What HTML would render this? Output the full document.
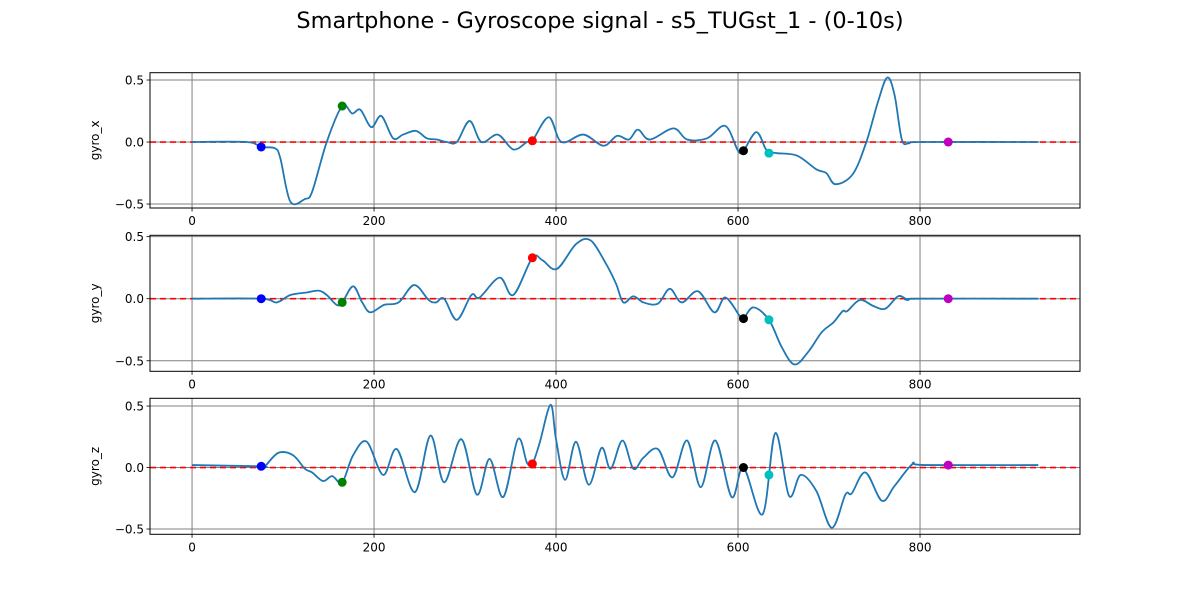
<!DOCTYPE html>
<html><head><meta charset="utf-8">
<style>
body{margin:0;background:#fff;}
svg{display:block;font-family:"DejaVu Sans","Liberation Sans",sans-serif;}
</style></head>
<body>
<svg id="chart" width="1200" height="600" viewBox="0 0 1200 600" xmlns="http://www.w3.org/2000/svg">
<rect width="1200" height="600" fill="#fff"/>
<text x="600" y="28" text-anchor="middle" font-size="22.4" fill="#000">Smartphone - Gyroscope signal - s5_TUGst_1 - (0-10s)</text>
<g id="plots"></g>
</svg>
<script>
const xTicks = [0, 200, 400, 600, 800];
const yTicks = [-0.5, 0, 0.5];
const axisNames = ["gyro_x", "gyro_y", "gyro_z"];
const gyroX_x = [0,60,76,91,97,108,124,132,148,165,176,185,197,208,221,232,246,258,269,280,291,305,318,336,353,368,374,392,406,430,452,467,480,490,503,529,544,566,586,600,606,620,630,634,643,665,686,697,707,726,741,754,764,772,780,788,800,930];
const gyroX_y = [0,0,-0.04,-0.05,-0.13,-0.48,-0.46,-0.40,0,0.29,0.23,0.26,0.12,0.21,0.03,0.06,0.09,0.03,0.02,0,0,0.17,0,0.06,-0.06,0,0.01,0.2,0,0.06,-0.03,0.05,0.02,0.1,0.02,0.11,0.02,0.03,0.13,-0.07,-0.07,0.08,-0.05,-0.08,-0.09,-0.11,-0.22,-0.25,-0.34,-0.26,0,0.33,0.52,0.38,0.02,-0.01,0,0];
const gyroY_x = [0,76,93,108,126,139,148,159,165,177,187,196,211,227,244,260,268,277,291,307,316,338,353,374,385,401,422,438,455,466,474,485,496,512,525,538,556,574,586,602,606,617,634,648,662,677,692,705,715,720,734,749,762,776,787,796,930];
const gyroY_y = [0,0,-0.03,0.03,0.05,0.065,0.03,-0.05,-0.03,0.1,-0.03,-0.11,-0.05,-0.03,0.11,-0.01,-0.03,0,-0.17,0.03,0.01,0.17,0.03,0.33,0.31,0.24,0.44,0.47,0.28,0.12,-0.03,0.02,-0.03,-0.04,0.08,-0.03,0.06,-0.11,0.01,-0.14,-0.16,-0.07,-0.17,-0.39,-0.53,-0.43,-0.27,-0.19,-0.1,-0.1,-0.01,-0.06,-0.08,0.02,-0.01,0,0];
const gyroZ_x = [0,76,80,95,111,124,132,144,154,165,177,192,210,225,245,262,277,296,313,327,342,358,368,374,382,394,400,410,422,436,450,460,473,485,496,512,528,544,559,575,593,606,627,641,656,669,686,703,718,725,740,758,772,792,805,930];
const gyroZ_y = [0.02,0.01,0.01,0.12,0.1,-0.01,-0.04,-0.11,-0.07,-0.12,0.1,0.21,-0.06,0.15,-0.2,0.26,-0.12,0.23,-0.22,0.07,-0.24,0.23,0.04,0.03,0.2,0.51,0.23,-0.1,0.21,-0.14,0.16,-0.01,0.22,-0.01,0.08,0.15,-0.08,0.22,-0.16,0.22,-0.24,0,-0.38,0.28,-0.23,-0.06,-0.19,-0.49,-0.22,-0.21,-0.04,-0.27,-0.15,0.03,0.02,0.02];
const eventX = [76, 165, 374, 606, 634, 831];
const eventColors = ["#0000ff","#008000","#ff0000","#000000","#00bfbf","#bf00bf"];
const eventYx = [-0.04, 0.29, 0.01, -0.07, -0.09, 0];
const eventYy = [0, -0.03, 0.33, -0.16, -0.17, 0];
const eventYz = [0.01, -0.12, 0.03, 0, -0.06, 0.02];

const seriesX = [gyroX_x, gyroY_x, gyroZ_x];
const seriesY = [gyroX_y, gyroY_y, gyroZ_y];
const eventsY = [eventYx, eventYy, eventYz];
const axBoxes = [
  {top:72.7,bottom:208,ymin:-0.532,ymax:0.559},
  {top:235.3,bottom:371.3,ymin:-0.585,ymax:0.511},
  {top:398.3,bottom:534.3,ymin:-0.543,ymax:0.563}
];
const L=150, R=1080, XMIN=-46.2, XMAX=975.8;
const NS="http://www.w3.org/2000/svg";
const root=document.getElementById('plots');
function mk(tag,attrs,parent){const e=document.createElementNS(NS,tag);for(const k in attrs)e.setAttribute(k,attrs[k]);(parent||root).appendChild(e);return e;}
function xs(v){return L+(v-XMIN)/(XMAX-XMIN)*(R-L);}
function pathFor(px,py){
  let d="M"+px[0].toFixed(2)+","+py[0].toFixed(2);
  for(let i=0;i<px.length-1;i++){
    const x0=px[Math.max(i-1,0)],y0=py[Math.max(i-1,0)];
    const x1=px[i],y1=py[i],x2=px[i+1],y2=py[i+1];
    const x3=px[Math.min(i+2,px.length-1)],y3=py[Math.min(i+2,px.length-1)];
    const c1x=x1+(x2-x0)/6,c1y=y1+(y2-y0)/6,c2x=x2-(x3-x1)/6,c2y=y2-(y3-y1)/6;
    d+=" C"+c1x.toFixed(2)+","+c1y.toFixed(2)+" "+c2x.toFixed(2)+","+c2y.toFixed(2)+" "+x2.toFixed(2)+","+y2.toFixed(2);
  }
  return d;
}
axBoxes.forEach((b,ai)=>{
  const ys=v=>b.bottom-(v-b.ymin)/(b.ymax-b.ymin)*(b.bottom-b.top);
  const g=mk('g',{});
  
  
  xTicks.forEach(t=>{
    const x=xs(t);
    const gl=mk('line',{x1:x,x2:x,y1:b.top,y2:b.bottom,stroke:'#808080','stroke-width':1},g);
    
    
    mk('line',{x1:x,x2:x,y1:b.bottom,y2:b.bottom+3.5,stroke:'#000','stroke-width':0.8},g);
    const tx=mk('text',{x:x,y:b.bottom+17,'text-anchor':'middle','font-size':12,fill:'#000'},g);
    tx.textContent=t;
    
    
  });
  yTicks.forEach(t=>{
    const y=ys(t);
    const gl=mk('line',{x1:L,x2:R,y1:y,y2:y,stroke:'#808080','stroke-width':1},g);
    
    
    mk('line',{x1:L-3.5,x2:L,y1:y,y2:y,stroke:'#000','stroke-width':0.8},g);
    const tx=mk('text',{x:L-6,y:y+4.5,'text-anchor':'end','font-size':12,fill:'#000'},g);
    tx.textContent=t.toFixed(1).replace('-','\u2212');
    
    
  });
  const z=mk('line',{x1:L,x2:R,y1:ys(0),y2:ys(0),stroke:'#ff0000','stroke-width':1.6,'stroke-dasharray':'6,4'},g);
  
  
  const px=seriesX[ai].map(xs), py=seriesY[ai].map(ys);
  const p=mk('path',{d:pathFor(px,py),fill:'none',stroke:'#1f77b4','stroke-width':1.8},g);
  
  
  eventX.forEach((ex,i)=>{
    const c=mk('circle',{cx:xs(ex),cy:ys(eventsY[ai][i]),r:4.5,fill:eventColors[i]},g);
    
    
  });
  const fr=mk('rect',{x:L,y:b.top,width:R-L,height:b.bottom-b.top,fill:'none',stroke:'#000','stroke-width':1},g);
  
  
  const cy=(b.top+b.bottom)/2;
  const yl=mk('text',{x:99,y:cy,'text-anchor':'middle','font-size':12,fill:'#000',transform:'rotate(-90 99 '+cy+')'},g);
  yl.textContent=axisNames[ai];
  
  
});
</script>
</body></html>
